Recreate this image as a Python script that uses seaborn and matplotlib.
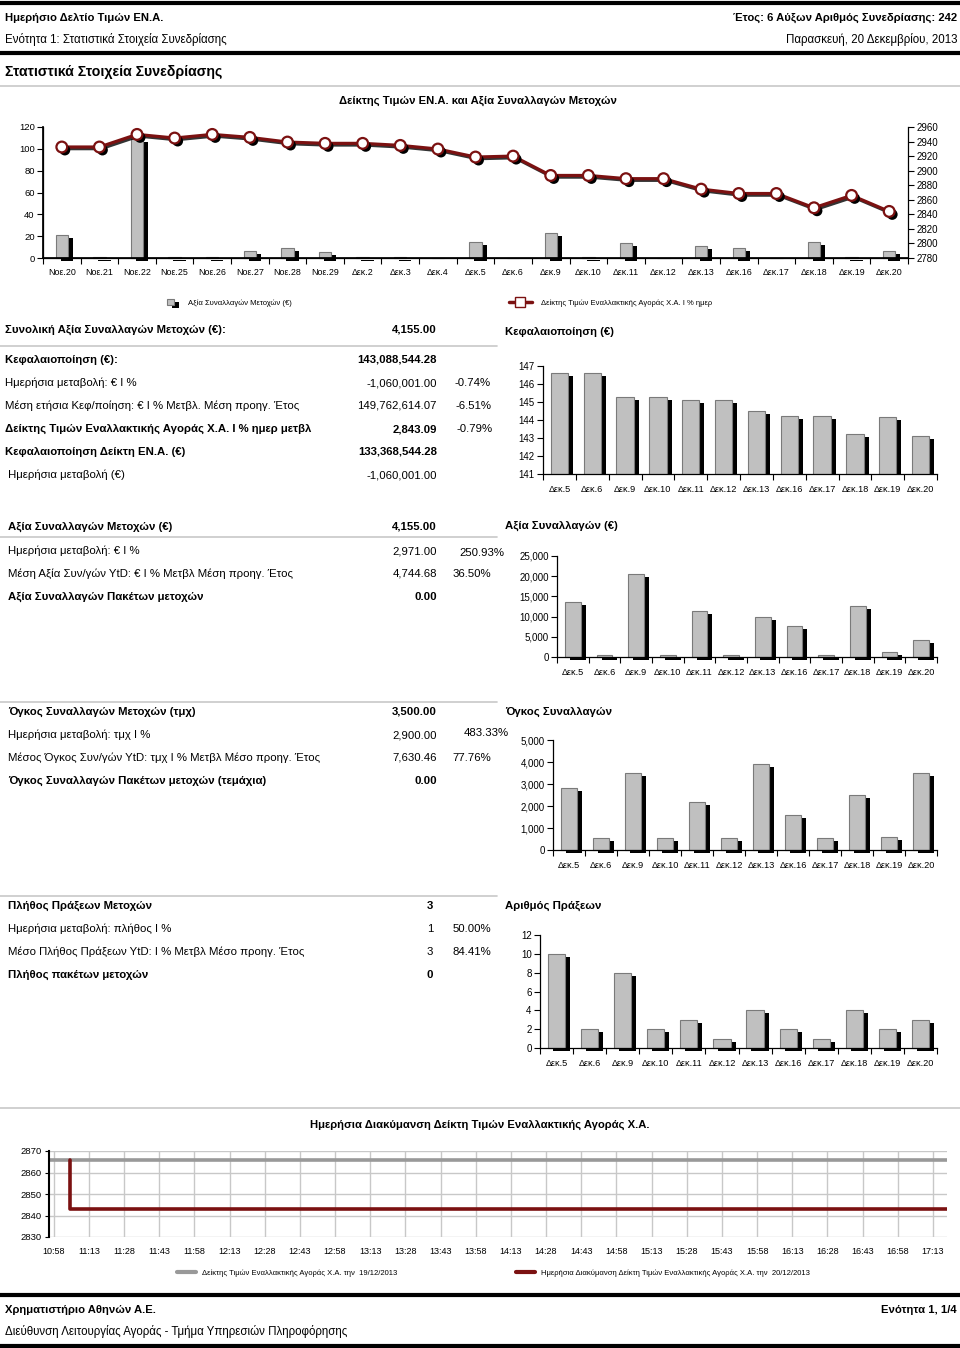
import numpy as np
import pandas as pd
import matplotlib
matplotlib.use("Agg")
import matplotlib.pyplot as plt
import matplotlib.patheffects as pe
from matplotlib.lines import Line2D
from matplotlib.patches import Patch
from matplotlib.ticker import StrMethodFormatter
import seaborn as sns

W, H = 960, 1348

# ---- data read from the bulletin ----
top_dates = ["Νοε.20", "Νοε.21", "Νοε.22", "Νοε.25", "Νοε.26", "Νοε.27", "Νοε.28", "Νοε.29",
             "Δεκ.2", "Δεκ.3", "Δεκ.4", "Δεκ.5", "Δεκ.6", "Δεκ.9", "Δεκ.10", "Δεκ.11",
             "Δεκ.12", "Δεκ.13", "Δεκ.16", "Δεκ.17", "Δεκ.18", "Δεκ.19", "Δεκ.20"]
top_value_k = [21.4, 1.0, 109.3, 1.0, 1.0, 6.4, 8.9, 5.2, 1.0, 1.0, 0.0, 15.0,
               0.0, 22.7, 1.0, 13.5, 0.0, 11.3, 8.9, 0.0, 14.7, 1.2, 6.4]
top_index = [2932.5, 2932.5, 2949.8, 2944.8, 2949.8, 2945.7, 2939.3, 2937.5, 2937.5,
             2934.7, 2929.7, 2918.7, 2920.0, 2893.4, 2893.4, 2889.0, 2889.0, 2874.6,
             2868.6, 2868.6, 2849.0, 2866.0, 2844.0]

dec_dates = ["Δεκ.5", "Δεκ.6", "Δεκ.9", "Δεκ.10", "Δεκ.11", "Δεκ.12", "Δεκ.13",
             "Δεκ.16", "Δεκ.17", "Δεκ.18", "Δεκ.19", "Δεκ.20"]
cap_mn = [146.63, 146.63, 145.26, 145.26, 145.13, 145.13, 144.50, 144.20, 144.20,
          143.20, 144.15, 143.09]
trade_value = [13660, 600, 20600, 600, 11420, 600, 9850, 7700, 600, 12670, 1184, 4155]
trade_volume = [2800, 530, 3490, 530, 2170, 530, 3890, 1590, 530, 2515, 600, 3500]
trade_count = [10, 2, 8, 2, 3, 1, 4, 2, 1, 4, 2, 3]

intraday_ticks = ["10:58", "11:13", "11:28", "11:43", "11:58", "12:13", "12:28", "12:43",
                  "12:58", "13:13", "13:28", "13:43", "13:58", "14:13", "14:28", "14:43",
                  "14:58", "15:13", "15:28", "15:43", "15:58", "16:13", "16:28", "16:43",
                  "16:58", "17:13"]
prev_times = ["10:56", "17:19"]
prev_values = [2865.7, 2865.7]
today_times = ["11:05", "11:05", "17:19"]
today_values = [2865.7, 2843.09, 2843.09]

# ---- style ----
sns.set_theme(style="ticks")
NARROW = ["Liberation Sans Narrow", "Liberation Sans", "DejaVu Sans"]
REG = ["Liberation Sans", "DejaVu Sans"]
plt.rcParams["font.family"] = REG
plt.rcParams["axes.edgecolor"] = "black"
plt.rcParams["xtick.color"] = "black"
plt.rcParams["ytick.color"] = "black"
plt.rcParams["text.color"] = "black"

RED = "#7b1111"
BAR_GRAY = "#c0c0c0"
BAR_EDGE = "#7a7a7a"
SHADOW = [pe.SimplePatchShadow(offset=(3.6, -2.2), shadow_rgbFace="black", alpha=1), pe.Normal()]
FS = 8.2

fig = plt.figure(figsize=(W / 100, H / 100), dpi=100)


def add_axes_px(x0, y0, x1, y1):
    return fig.add_axes([x0 / W, 1 - y1 / H, (x1 - x0) / W, (y1 - y0) / H])


def txt(x, y, s, size=FS, bold=False, ha="left", family=NARROW):
    fig.text(x / W, 1 - y / H, s, fontsize=size, fontweight="bold" if bold else "normal",
             ha=ha, va="center", family=family)


def hline(y, x0=0, x1=W, color="black", lw=1.0):
    fig.add_artist(Line2D([x0 / W, x1 / W], [1 - y / H, 1 - y / H], color=color, lw=lw,
                          transform=fig.transFigure))


def to_min(t):
    h, m = t.split(":")
    return int(h) * 60 + int(m)


def shadow_bars(ax, cats, vals, width, clip=True):
    sns.barplot(x=cats, y=vals, color=BAR_GRAY, edgecolor=BAR_EDGE, linewidth=0.8,
                width=width, saturation=1, errorbar=None, ax=ax)
    for p in ax.patches:
        p.set_path_effects(SHADOW)
        p.set_clip_on(clip)


def style_cat_axes(ax, n, xsize=6.6, ysize=7, pad=8):
    ax.set_xlabel("")
    ax.set_ylabel("")
    ax.set_xlim(-0.5, n - 0.5)
    ax.set_xticks(np.arange(n + 1) - 0.5, minor=True)
    ax.tick_params(axis="x", which="major", length=0, labelsize=xsize, pad=pad)
    ax.tick_params(axis="x", which="minor", length=4, width=0.8, direction="out")
    ax.tick_params(axis="y", length=4, width=0.8, direction="out", labelsize=ysize, pad=2)
    for s in ["left", "bottom"]:
        ax.spines[s].set_linewidth(0.9)
    ax.spines["top"].set_visible(False)
    ax.spines["right"].set_visible(False)


# ---- header ----
hline(3, lw=3)
txt(5, 18, "Ημερήσιο Δελτίο Τιμών ΕΝ.Α.", 8.1, True)
txt(957, 18, "Έτος: 6 Αύξων Αριθμός Συνεδρίασης: 242", 8.1, True, ha="right")
txt(5, 39, "Ενότητα 1: Στατιστικά Στοιχεία Συνεδρίασης", 8.3)
txt(957, 39, "Παρασκευή, 20 Δεκεμβρίου, 2013", 8.3, ha="right")
hline(53, lw=3)
txt(5, 72, "Στατιστικά Στοιχεία Συνεδρίασης", 10.2, True)
hline(86, color="#c8c8c8", lw=1.2)
txt(478, 101, "Δείκτης Τιμών ΕΝ.Α. και Αξία Συναλλαγών Μετοχών", 8.1, True, ha="center")

# ---- top combined chart ----
ax = add_axes_px(43, 127, 908, 258)
shadow_bars(ax, top_dates, top_value_k, 0.33, clip=False)
ax.set_ylim(0, 120)
ax.set_yticks(range(0, 121, 20))
style_cat_axes(ax, len(top_dates), xsize=6.4, ysize=6.8, pad=7)

ax2 = ax.twinx()
pos = np.arange(len(top_dates))
sns.lineplot(x=pos, y=top_index, color=RED, linewidth=2.3, ax=ax2,
             path_effects=[pe.SimpleLineShadow(offset=(1.2, -1.2), shadow_color="black", alpha=0.8),
                           pe.Normal()])
sns.scatterplot(x=pos, y=top_index, s=60, color="white", edgecolor=RED, linewidth=1.6,
                ax=ax2, zorder=5)
ax2.collections[-1].set_path_effects([pe.SimplePatchShadow(offset=(2.2, -2.2), shadow_rgbFace="black", alpha=1),
                                      pe.Normal()])
ax2.set_ylim(2780, 2960)
ax2.set_yticks(range(2780, 2961, 20))
ax2.set_xlim(-0.5, len(top_dates) - 0.5)
ax2.tick_params(axis="y", length=4, width=0.8, direction="out", labelsize=7, pad=2)
ax2.spines["right"].set_linewidth(0.9)
ax2.spines["top"].set_visible(False)
ax2.set_ylabel("")

fig.legend(handles=[Patch(facecolor=BAR_GRAY, edgecolor=BAR_EDGE, linewidth=0.8,
                          path_effects=SHADOW)],
           labels=["Αξία Συναλλαγών Μετοχών (€)"], loc="center left",
           bbox_to_anchor=(160 / W, 1 - 303 / H), frameon=False, fontsize=5.5,
           handlelength=0.9, handleheight=0.9, handletextpad=1.8)
fig.legend(handles=[Line2D([], [], color=RED, lw=2.5, marker="s", markersize=7,
                           markerfacecolor="white", markeredgecolor=RED)],
           labels=["Δείκτης Τιμών Εναλλακτικής Αγοράς Χ.Α. I % ημερ"], loc="center left",
           bbox_to_anchor=(502 / W, 1 - 303 / H), frameon=False, fontsize=5.5,
           handlelength=3.0, handletextpad=1.2)

# ---- section 1: capitalisation ----
VX = 437
PX = 491
txt(5, 330, "Συνολική Αξία Συναλλαγών Μετοχών (€):", FS, True)
txt(VX, 330, "4,155.00", FS, True, ha="right")
txt(505, 332, "Κεφαλαιοποίηση (€)", FS, True)
hline(346, 0, 497, color="#c8c8c8", lw=1.2)
rows1 = [
    (360, "Κεφαλαιοποίηση (€):", "143,088,544.28", "", True),
    (383, "Ημερήσια μεταβολή: € I %", "-1,060,001.00", "-0.74%", False),
    (406, "Μέση ετήσια Κεφ/ποίηση: € I % Μετβλ. Μέση προηγ. Έτος", "149,762,614.07", "-6.51%", False),
    (429, "Δείκτης Τιμών Εναλλακτικής Αγοράς Χ.Α. I % ημερ μετβλ", "2,843.09", "-0.79%", True),
    (452, "Κεφαλαιοποίηση Δείκτη ΕΝ.Α. (€)", "133,368,544.28", "", True),
    (475, " Ημερήσια μεταβολή (€)", "-1,060,001.00", "", False),
]
for y, lab, val, pct, b in rows1:
    txt(5, y, lab, FS, b)
    txt(VX, y, val, FS, b, ha="right")
    if pct:
        txt(PX + (2 if b else 0), y, pct, FS, ha="right")

axc = add_axes_px(543, 366, 937, 474)
shadow_bars(axc, dec_dates, cap_mn, 0.53)
axc.set_ylim(141, 147)
axc.set_yticks(range(141, 148))
style_cat_axes(axc, len(dec_dates), pad=8)

# ---- section 2: trade value ----
txt(8, 527, "Αξία Συναλλαγών Μετοχών (€)", FS, True)
txt(VX, 527, "4,155.00", FS, True, ha="right")
txt(505, 526, "Αξία Συναλλαγών (€)", FS, True)
hline(537, 0, 497, color="#c8c8c8", lw=1.2)
txt(8, 551, "Ημερήσια μεταβολή: € I %", FS)
txt(VX, 551, "2,971.00", FS, ha="right")
txt(504, 553, "250.93%", FS, ha="right")
txt(8, 574, "Μέση Αξία Συν/γών YtD: € I % Μετβλ Μέση προηγ. Έτος", FS)
txt(VX, 574, "4,744.68", FS, ha="right")
txt(PX, 574, "36.50%", FS, ha="right")
txt(8, 597, "Αξία Συναλλαγών Πακέτων μετοχών", FS, True)
txt(VX, 597, "0.00", FS, True, ha="right")

axv = add_axes_px(557, 556, 937, 657)
shadow_bars(axv, dec_dates, trade_value, 0.5, clip=False)
axv.set_ylim(0, 25000)
axv.set_yticks(range(0, 25001, 5000))
axv.yaxis.set_major_formatter(StrMethodFormatter("{x:,.0f}"))
style_cat_axes(axv, len(dec_dates), pad=8)

# ---- section 3: volume ----
hline(702, 0, 497, color="#c8c8c8", lw=1.2)
txt(8, 712, "Όγκος Συναλλαγών Μετοχών (τμχ)", FS, True)
txt(VX, 712, "3,500.00", FS, True, ha="right")
txt(505, 712, "Όγκος Συναλλαγών", FS, True)
txt(8, 735, "Ημερήσια μεταβολή: τμχ I %", FS)
txt(VX, 735, "2,900.00", FS, ha="right")
txt(509, 733, "483.33%", FS, ha="right")
txt(8, 758, "Μέσος Όγκος Συν/γών YtD: τμχ I % Μετβλ Μέσο προηγ. Έτος", FS)
txt(VX, 758, "7,630.46", FS, ha="right")
txt(PX, 758, "77.76%", FS, ha="right")
txt(8, 781, "Όγκος Συναλλαγών Πακέτων μετοχών (τεμάχια)", FS, True)
txt(VX, 781, "0.00", FS, True, ha="right")

axo = add_axes_px(553, 740, 937, 850)
shadow_bars(axo, dec_dates, trade_volume, 0.49, clip=False)
axo.set_ylim(0, 5000)
axo.set_yticks(range(0, 5001, 1000))
axo.yaxis.set_major_formatter(StrMethodFormatter("{x:,.0f}"))
style_cat_axes(axo, len(dec_dates), pad=8)

# ---- section 4: number of trades ----
hline(896, 0, 497, color="#c8c8c8", lw=1.2)
txt(8, 906, "Πλήθος Πράξεων Μετοχών", FS, True)
txt(VX - 4, 906, "3", FS, True, ha="right")
txt(505, 906, "Αριθμός Πράξεων", FS, True)
txt(8, 929, "Ημερήσια μεταβολή: πλήθος I %", FS)
txt(VX - 4, 929, "1", FS, ha="right")
txt(PX, 929, "50.00%", FS, ha="right")
txt(8, 952, "Μέσο Πλήθος Πράξεων YtD: I % Μετβλ Μέσο προηγ. Έτος", FS)
txt(VX - 4, 952, "3", FS, ha="right")
txt(PX, 952, "84.41%", FS, ha="right")
txt(8, 975, "Πλήθος πακέτων μετοχών", FS, True)
txt(VX - 4, 975, "0", FS, True, ha="right")

axp = add_axes_px(540, 935, 937, 1048)
shadow_bars(axp, dec_dates, trade_count, 0.52, clip=False)
axp.set_ylim(0, 12)
axp.set_yticks(range(0, 13, 2))
style_cat_axes(axp, len(dec_dates), pad=8)

# ---- intraday chart ----
hline(1108, color="#c8c8c8", lw=1.2)
txt(480, 1125, "Ημερήσια Διακύμανση Δείκτη Τιμών Εναλλακτικής Αγοράς Χ.Α.", 8.1, True, ha="center")
axi = add_axes_px(49, 1151, 947, 1237)
prev = pd.DataFrame({"t": [to_min(t) for t in prev_times], "v": prev_values})
today = pd.DataFrame({"t": [to_min(t) for t in today_times], "v": today_values})
sns.lineplot(data=prev, x="t", y="v", color="#999999", linewidth=2.6, estimator=None,
             sort=False, ax=axi)
sns.lineplot(data=today, x="t", y="v", color=RED, linewidth=2.6, estimator=None,
             sort=False, ax=axi)
axi.set_xlim(prev["t"].min(), prev["t"].max())
axi.set_ylim(2830, 2870)
axi.set_yticks(range(2830, 2871, 10))
axi.set_xticks([to_min(t) for t in intraday_ticks])
axi.set_xticklabels(intraday_ticks)
axi.grid(True, color="#c8c8c8", linewidth=1.0)
axi.set_axisbelow(True)
axi.tick_params(axis="x", length=0, labelsize=6.5, pad=7)
axi.tick_params(axis="y", length=3, width=0.8, labelsize=6.8, pad=2)
axi.set_xlabel("")
axi.set_ylabel("")
for s in ["top", "right", "bottom"]:
    axi.spines[s].set_visible(False)
axi.spines["left"].set_linewidth(1.5)

fig.legend(handles=[Line2D([], [], color="#999999", lw=3)],
           labels=["Δείκτης Τιμών Εναλλακτικής Αγοράς Χ.Α. την  19/12/2013"], loc="center left",
           bbox_to_anchor=(170 / W, 1 - 1273 / H), frameon=False, fontsize=5.5,
           handlelength=2.5, handletextpad=0.8)
fig.legend(handles=[Line2D([], [], color=RED, lw=3)],
           labels=["Ημερήσια Διακύμανση Δείκτη Τιμών Εναλλακτικής Αγοράς Χ.Α. την  20/12/2013"],
           loc="center left", bbox_to_anchor=(509 / W, 1 - 1273 / H), frameon=False,
           fontsize=5.5, handlelength=2.5, handletextpad=0.8)

# ---- footer ----
hline(1295, lw=3)
txt(5, 1310, "Χρηματιστήριο Αθηνών Α.Ε.", 8.1, True)
txt(957, 1310, "Ενότητα 1, 1/4", 8.1, True, ha="right")
txt(5, 1331, "Διεύθυνση Λειτουργίας Αγοράς - Τμήμα Υπηρεσιών Πληροφόρησης", 8.3)
hline(1346, lw=3)

fig.savefig("out.png", dpi=100)
